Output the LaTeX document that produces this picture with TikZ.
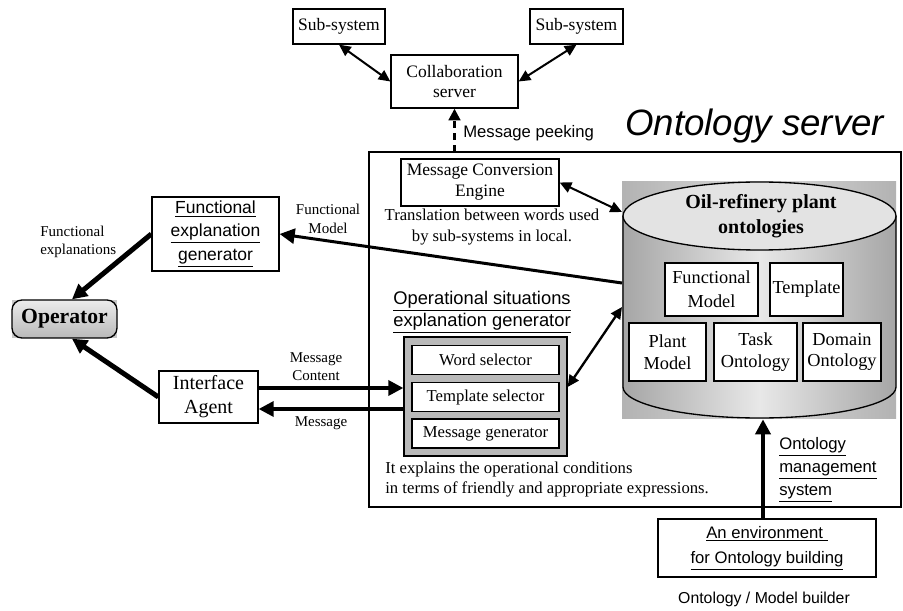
\documentclass[tikz,border=0pt]{standalone}
\usepackage{fontspec}
\setmainfont{Liberation Serif}
\setsansfont{Liberation Sans}
\usetikzlibrary{arrows.meta}

\begin{document}
\begin{tikzpicture}[x=0.6pt, y=-0.6pt,
    box/.style={draw, line width=0.8pt, fill=white, inner sep=0pt, align=center},
    lbl/.style={inner sep=0pt, align=center, font=\fontsize{9}{11}\selectfont},
    ulbl/.style={inner sep=0pt, font=\sffamily\fontsize{10}{14}\selectfont},
    cylbox/.style={box, font=\fontsize{11}{13}\selectfont},
    selbox/.style={box, minimum width=88.2pt, minimum height=17.4pt, font=\fontsize{10}{12}\selectfont},
    bigarrow/.style={line width=2.4pt, -{Triangle[length=9pt,width=9pt]}},
    twoway/.style={line width=1.2pt, {Triangle[length=7pt,width=6.5pt]}-{Triangle[length=7pt,width=6.5pt]}}]
    \useasboundingbox (0,0) rectangle (903,611);

    % --- Collaboration server and sub-systems ---
    \node[box, minimum width=55.2pt, minimum height=21pt, font=\fontsize{10.5}{12.6}\selectfont] (subL) at (339,26.5) {Sub-system};
    \node[box, minimum width=55.8pt, minimum height=21pt, font=\fontsize{10.5}{12.6}\selectfont] (subR) at (576.5,26.5) {Sub-system};
    \node[box, minimum width=76.2pt, minimum height=31.8pt, font=\fontsize{10.5}{12}\selectfont] (collab) at (454.5,81.5) {Collaboration\\server};
    \draw[twoway] (subL.south) -- (collab.west);
    \draw[twoway] (collab.east) -- (subR.south);

    % --- Ontology server frame ---
    \node[draw, line width=0.9pt, inner sep=0pt, minimum width=319.2pt, minimum height=213pt] (srv) at (635,329.5) {};
    \node[anchor=west, inner sep=0pt, font=\sffamily\itshape\fontsize{22}{25}\selectfont] (srvtitle) at (625,126) {Ontology server};
    \draw[line width=1.5pt, dash pattern=on 4pt off 3pt, -{Triangle[length=7pt,width=7pt]}] (collab.south |- srv.north) -- (collab.south);
    \node[anchor=west, inner sep=0pt, font=\sffamily\fontsize{10}{12}\selectfont] (peek) at (463,133) {Message peeking};

    % --- Message conversion engine ---
    \node[box, minimum width=94.8pt, minimum height=28.2pt, font=\fontsize{10.5}{12.6}\selectfont] (mce) at (480,182.5) {Message Conversion\\Engine};
    \node[lbl, font=\fontsize{10}{12.6}\selectfont] (transl) at (492,227.5) {Translation between words used\\by sub-systems in local.};

    % --- Oil-refinery plant ontologies ---
    \shade[left color=gray!60, right color=gray!60, middle color=gray!30] (622,182) rectangle (896,419);
    \draw[line width=0.8pt, left color=gray!70, right color=gray!70, middle color=gray!18] (623,216) -- (623,387)
        arc[start angle=180, end angle=360, x radius=81.9pt, y radius=18.6pt] -- (896,216);
    \draw[line width=0.8pt, fill=gray!22] (759.5,216) ellipse [x radius=81.9pt, y radius=20.4pt];
    \node[inner sep=0pt, minimum width=164.4pt, minimum height=142.2pt] (cyl) at (759,300.5) {};
    \node[inner sep=0pt, align=center, font=\bfseries\fontsize{12}{15}\selectfont] (cyltitle) at (761,216.5) {Oil-refinery plant\\ontologies};
    \node[cylbox, minimum width=55.8pt, minimum height=31.8pt] (fmodel) at (711.5,289.5) {Functional\\[1.5pt]Model};
    \node[cylbox, minimum width=43.8pt, minimum height=31.8pt] (tmpl) at (806.5,289.5) {Template};
    \node[cylbox, minimum width=46.2pt, minimum height=34.8pt] (pmodel) at (667.5,352) {Plant\\Model};
    \node[cylbox, minimum width=49.8pt, minimum height=34.8pt] (task) at (755.5,352) {Task\\Ontology};
    \node[cylbox, minimum width=46.8pt, minimum height=34.8pt] (domain) at (842,352) {Domain\\Ontology};
    \coordinate (cylMC) at (622,212);
    \coordinate (cylFM) at (622,283);
    \coordinate (cylOS) at (622,307);
    \draw[twoway] (mce.east) -- (cylMC);

    % --- Functional explanation generator ---
    \node[box, minimum width=76.2pt, minimum height=44.4pt, font=\sffamily\fontsize{10.5}{14}\selectfont] (feg) at (215.5,234) {\underline{Functional}\\\underline{explanation}\\\underline{generator}};
    \draw[bigarrow, line width=1.8pt] (cylFM) -- (feg.east);
    \node[lbl] (fmlbl) at (328,219) {Functional\\Model};

    % --- Operator ---
    \fill[gray!45] (12,300) rectangle (117,338);
    \node[draw, line width=0.8pt, rounded corners=6pt, top color=gray!15, bottom color=gray!55, minimum width=63pt, minimum height=22.8pt, inner sep=0pt, font=\bfseries\fontsize{13}{15}\selectfont] (oper) at (64.5,319) {Operator};
    \draw[bigarrow, line width=3pt] (feg.west) -- ([xshift=4.5pt]oper.north);
    \node[lbl, align=left, anchor=west] (fexpl) at (40,242) {Functional\\explanations};

    % --- Interface agent ---
    \node[box, minimum width=59.4pt, minimum height=31.2pt, font=\fontsize{12}{14.4}\selectfont] (ia) at (208.5,397) {Interface\\Agent};
    \draw[bigarrow, line width=3pt] (ia.west) -- ([xshift=4.5pt]oper.south);

    % --- Operational situations explanation generator ---
    \node[ulbl, align=left, anchor=west, font=\sffamily\fontsize{11}{11.6}\selectfont] (osegtitle) at (393,312) {\underline{Operational situations}\\\underline{explanation generator}};
    \node[draw, line width=0.8pt, fill=gray!55, inner sep=0pt, minimum width=97.8pt, minimum height=71.4pt] (oseg) at (485.5,396.5) {};
    \node[selbox] (wsel) at (485.5,360) {Word selector};
    \node[selbox] (tsel) at (485.5,397) {Template selector};
    \node[selbox] (mgen) at (485.5,433.5) {Message generator};
    \draw[twoway, line width=1.4pt] ([yshift=5.7pt]oseg.east) -- (cylOS);
    \node[lbl, align=left, anchor=west, font=\fontsize{10}{12}\selectfont] (explains) at (385,480) {It explains the operational conditions\\in terms of friendly and appropriate expressions.};

    % Message arrows
    \coordinate (msgin) at ([yshift=5.4pt]ia.east);
    \coordinate (msgout) at ([yshift=-7.2pt]ia.east);
    \draw[bigarrow, line width=2pt] (msgin) -- (msgin -| oseg.west);
    \draw[bigarrow, line width=2pt] (msgout -| oseg.west) -- (msgout);
    \node[lbl] (mclbl) at (316,366.5) {Message\\Content};
    \node[lbl] (mlbl) at (321,423) {Message};

    % --- Ontology management ---
    \node[ulbl, align=left, anchor=west] (oms) at (779,470) {\underline{Ontology}\\\underline{management}\\\underline{system}};
    \node[box, minimum width=130.8pt, minimum height=34.8pt, font=\sffamily\fontsize{10}{15}\selectfont] (env) at (767,548) {\underline{An environment\ }\\\underline{for Ontology building}};
    \draw[bigarrow] ([xshift=-2.4pt]env.north) -- ([xshift=-2.4pt]env.north |- cyl.south);
    \node[inner sep=0pt, font=\sffamily\fontsize{9.5}{12}\selectfont] (builder) at (764,599) {Ontology / Model builder};
\end{tikzpicture}
\end{document}
